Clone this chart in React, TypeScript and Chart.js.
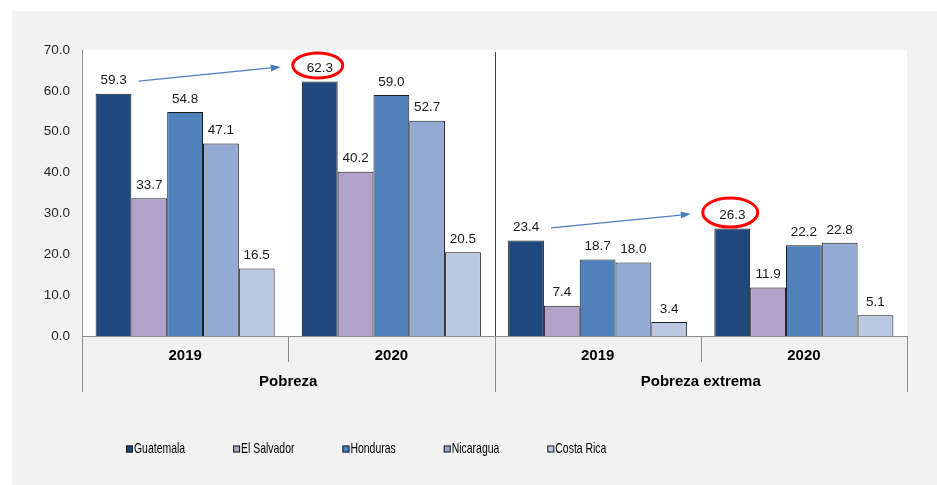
import React, { useEffect, useRef } from 'react';
import { Chart, registerables } from 'chart.js';

Chart.register(...registerables);

const categories = ['2019', '2020', '2019', '2020'];
const groups = ['Pobreza', 'Pobreza extrema'];
const countries = ['Guatemala', 'El Salvador', 'Honduras', 'Nicaragua', 'Costa Rica'];
const guatemala = [59.3, 62.3, 23.4, 26.3];
const elSalvador = [33.7, 40.2, 7.4, 11.9];
const honduras = [54.8, 59.0, 18.7, 22.2];
const nicaragua = [47.1, 52.7, 18.0, 22.8];
const costaRica = [16.5, 20.5, 3.4, 5.1];
const yMin = 0;
const yMax = 70;
const yStep = 10;
const highlightIndex = [1, 3];
const arrowFromIndex = [0, 2];

const seriesValues = [guatemala, elSalvador, honduras, nicaragua, costaRica];
const colors = ['#1F497D', '#B3A2C7', '#4F81BD', '#95AAD2', '#BAC8E2'];

const FONT = '"Liberation Sans", Arial, sans-serif';

const decorPlugin = {
  id: 'decor',
  beforeDraw(chart: any) {
    const { ctx, width, height, chartArea } = chart;
    ctx.save();
    ctx.fillStyle = '#ffffff';
    ctx.fillRect(0, 0, width, height);
    ctx.fillStyle = '#f2f2f2';
    ctx.fillRect(12, 11, width - 12, height - 11);
    ctx.fillStyle = '#ffffff';
    ctx.fillRect(chartArea.left, chartArea.top, chartArea.right - chartArea.left, chartArea.bottom - chartArea.top);
    ctx.restore();
  },
  afterDatasetsDraw(chart: any) {
    const { ctx, chartArea } = chart;
    const xs = chart.scales.x;
    const bottom = chartArea.bottom;
    const yearLineEnd = bottom + 26;
    const groupLineEnd = bottom + 56;
    ctx.save();

    // axis lines
    ctx.strokeStyle = '#8c8c8c';
    ctx.lineWidth = 1;
    ctx.beginPath();
    ctx.moveTo(chartArea.left + 0.5, chartArea.top);
    ctx.lineTo(chartArea.left + 0.5, groupLineEnd);
    ctx.moveTo(chartArea.left, bottom + 0.5);
    ctx.lineTo(chartArea.right, bottom + 0.5);
    ctx.stroke();

    // boundaries between categories
    const n = categories.length;
    const bounds: number[] = [];
    for (let i = 0; i <= n; i++) {
      if (i === 0) bounds.push(chartArea.left);
      else if (i === n) bounds.push(chartArea.right);
      else bounds.push((xs.getPixelForValue(i - 1) + xs.getPixelForValue(i)) / 2);
    }
    bounds.forEach((b, i) => {
      const bx = Math.round(b) + 0.5;
      const isGroup = i % 2 === 0;
      ctx.strokeStyle = '#8c8c8c';
      ctx.beginPath();
      ctx.moveTo(bx, bottom);
      ctx.lineTo(bx, isGroup ? groupLineEnd : yearLineEnd);
      ctx.stroke();
    });
    // divider between groups inside plot
    const mid = Math.round(bounds[2]) + 0.5;
    ctx.strokeStyle = '#404040';
    ctx.beginPath();
    ctx.moveTo(mid, chartArea.top + 2);
    ctx.lineTo(mid, bottom);
    ctx.stroke();

    // group labels
    ctx.fillStyle = '#000000';
    ctx.font = 'bold 15px ' + FONT;
    ctx.textAlign = 'center';
    ctx.textBaseline = 'middle';
    groups.forEach((g, gi) => {
      const cx = (bounds[gi * 2] + bounds[gi * 2 + 2]) / 2;
      ctx.fillText(g, cx, bottom + 46);
    });

    // data labels
    ctx.font = '13.5px ' + FONT;
    ctx.fillStyle = '#1a1a1a';
    chart.data.datasets.forEach((ds: any, di: number) => {
      const meta = chart.getDatasetMeta(di);
      meta.data.forEach((el: any, i: number) => {
        ctx.fillText(Number(ds.data[i]).toFixed(1), el.x, el.y - 13);
      });
    });

    // highlight ellipses and arrows
    const meta0 = chart.getDatasetMeta(0);
    highlightIndex.forEach((hi, k) => {
      const target = meta0.data[hi];
      const from = meta0.data[arrowFromIndex[k]];
      const ecx = target.x - 2;
      const ecy = target.y - 16;
      const rx = k === 0 ? 25 : 27.5;
      const ry = k === 0 ? 12.5 : 14.5;
      ctx.strokeStyle = '#ff0000';
      ctx.lineWidth = 3;
      ctx.beginPath();
      ctx.ellipse(ecx, ecy, rx, ry, 0, 0, Math.PI * 2);
      ctx.stroke();

      const sx = from.x + 25;
      const sy = from.y - 13 + 0.5;
      const tx = ecx - rx - 12;
      const ty = ecy + 1.5;
      const ang = Math.atan2(ty - sy, tx - sx);
      const hl = 10;
      const hw = 3.5;
      const bx = tx - hl * Math.cos(ang);
      const by = ty - hl * Math.sin(ang);
      ctx.strokeStyle = '#4a7ebb';
      ctx.fillStyle = '#4a7ebb';
      ctx.lineWidth = 1.2;
      ctx.beginPath();
      ctx.moveTo(sx, sy);
      ctx.lineTo(bx, by);
      ctx.stroke();
      ctx.beginPath();
      ctx.moveTo(tx, ty);
      ctx.lineTo(bx + hw * Math.sin(ang), by - hw * Math.cos(ang));
      ctx.lineTo(bx - hw * Math.sin(ang), by + hw * Math.cos(ang));
      ctx.closePath();
      ctx.fill();
    });

    // legend (condensed text)
    const squeeze = 0.72;
    ctx.font = '14.5px ' + FONT;
    ctx.textAlign = 'left';
    ctx.textBaseline = 'middle';
    let lx = 126;
    const ly = 449;
    countries.forEach((c, i) => {
      ctx.fillStyle = colors[i];
      ctx.fillRect(lx, ly - 3.5, 7, 7);
      ctx.strokeStyle = '#1a1a1a';
      ctx.lineWidth = 1;
      ctx.strokeRect(lx + 0.5, ly - 3.5 + 0.5, 6, 6);
      ctx.fillStyle = '#000000';
      ctx.save();
      ctx.translate(lx + 8, ly);
      ctx.scale(squeeze, 1);
      ctx.fillText(c, 0, 0);
      ctx.restore();
      lx += 8 + ctx.measureText(c).width * squeeze + 48;
    });

    ctx.restore();
  },
};

export default function App() {
  const ref = useRef<HTMLCanvasElement | null>(null);
  useEffect(() => {
    document.body.style.margin = '0';
    const canvas = ref.current;
    if (!canvas) return;
    const chart = new Chart(canvas, {
      type: 'bar',
      data: {
        labels: categories,
        datasets: countries.map((c, i) => ({
          label: c,
          data: seriesValues[i],
          backgroundColor: colors[i],
          borderColor: '#1a1a1a',
          borderWidth: 1,
          borderSkipped: 'bottom',
          categoryPercentage: 0.868,
          barPercentage: 1,
        })),
      },
      options: {
        animation: false,
        responsive: false,
        devicePixelRatio: 1,
        layout: { padding: { left: 0, top: 50, right: 30, bottom: 0 } },
        plugins: {
          legend: { display: false },
          tooltip: { enabled: false },
          title: { display: false },
        },
        scales: {
          x: {
            type: 'category',
            grid: { display: false, drawTicks: false },
            border: { display: false },
            ticks: {
              color: '#000000',
              font: { family: FONT, size: 15, weight: 'bold' },
              padding: 11,
              maxRotation: 0,
            },
            afterFit(scale: any) {
              scale.height = 149;
            },
          },
          y: {
            min: yMin,
            max: yMax,
            grid: { display: false, drawTicks: false },
            border: { display: false },
            ticks: {
              stepSize: yStep,
              color: '#262626',
              font: { family: FONT, size: 13.5 },
              padding: 12,
              callback: (v: any) => Number(v).toFixed(1),
            },
            afterFit(scale: any) {
              scale.width = 82;
            },
          },
        },
      },
      plugins: [decorPlugin],
    } as any);
    return () => chart.destroy();
  }, []);
  return (
    <div style={{ position: 'absolute', left: 0, top: 0, width: 937, height: 485 }}>
      <canvas ref={ref} width={937} height={485} style={{ width: 937, height: 485, display: 'block' }} />
    </div>
  );
}
